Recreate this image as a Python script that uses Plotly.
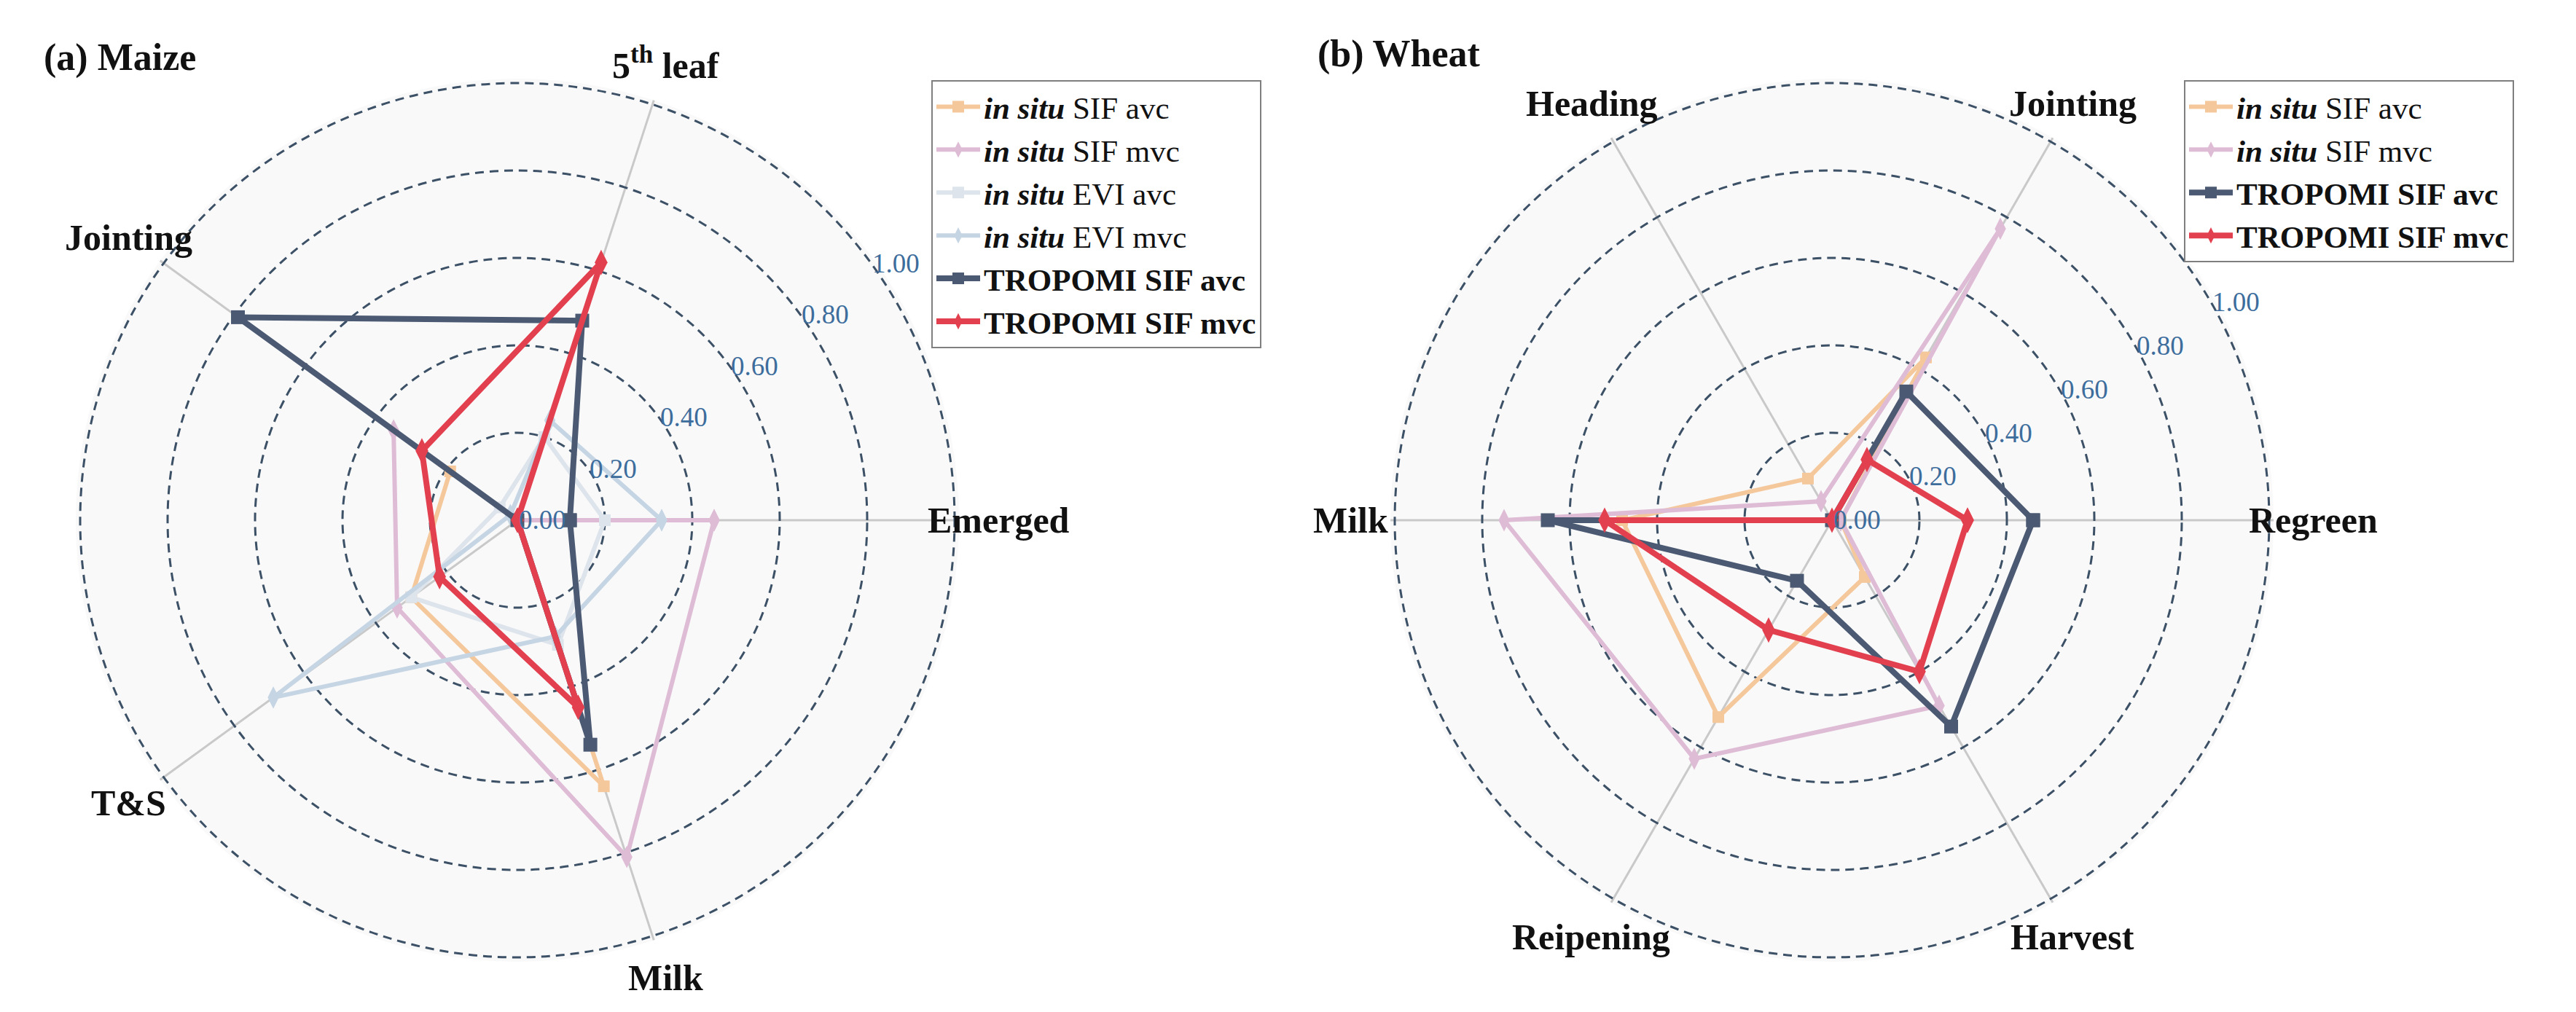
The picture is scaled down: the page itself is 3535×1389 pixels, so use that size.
import math
import plotly.graph_objects as go

# ---------------- data ----------------
cats_maize = ["Emerged", "5th leaf", "Jointing", "T&S", "Milk"]
labels_maize = ["Emerged", "5<sup>th</sup> leaf", "Jointing", "T&S", "Milk"]
maize_situ_sif_avc = [0.00, 0.00, 0.19, 0.30, 0.64]
maize_situ_sif_mvc = [0.45, 0.00, 0.35, 0.34, 0.81]
maize_situ_evi_avc = [0.20, 0.20, 0.05, 0.30, 0.30]
maize_situ_evi_mvc = [0.33, 0.24, 0.02, 0.69, 0.28]
maize_trop_avc = [0.12, 0.48, 0.79, 0.00, 0.54]
maize_trop_mvc = [0.00, 0.62, 0.27, 0.22, 0.45]

cats_wheat = ["Regreen", "Jointing", "Heading", "Milk", "Reipening", "Harvest"]
labels_wheat = ["Regreen", "Jointing", "Heading", "Milk", "Reipening", "Harvest"]
wheat_situ_sif_avc = [0.02, 0.43, 0.11, 0.48, 0.52, 0.15]
wheat_situ_sif_mvc = [0.02, 0.77, 0.05, 0.75, 0.63, 0.49]
wheat_trop_avc = [0.46, 0.34, 0.00, 0.65, 0.16, 0.545]
wheat_trop_mvc = [0.31, 0.16, 0.00, 0.52, 0.29, 0.40]

radial_ticks = [0.0, 0.2, 0.4, 0.6, 0.8, 1.0]
radial_ticktext = ["0.00", "0.20", "0.40", "0.60", "0.80", "1.00"]

series_names = [
    "<b><i>in situ</i></b> SIF avc",
    "<b><i>in situ</i></b> SIF mvc",
    "<b><i>in situ</i></b> EVI avc",
    "<b><i>in situ</i></b> EVI mvc",
    "<b>TROPOMI SIF avc</b>",
    "<b>TROPOMI SIF mvc</b>",
]

# ---------------- styles ----------------
FONT = "Liberation Serif"
styles = {
    "sif_avc": dict(color="#f5c89c", symbol="square", size=16, width=6),
    "sif_mvc": dict(color="#dfbcd5", symbol="diamond-tall", size=22, width=6),
    "evi_avc": dict(color="#dee4eb", symbol="square", size=16, width=6),
    "evi_mvc": dict(color="#c6d5e3", symbol="diamond-tall", size=22, width=6),
    "trop_avc": dict(color="#4b5a72", symbol="square", size=19, width=8),
    "trop_mvc": dict(color="#e3404f", symbol="diamond-tall", size=25, width=8),
}

W, H = 3535, 1389
RADIUS_PX = 600          # pixel radius of the 1.0 ring
R_MAX = 1.01             # radial range end (so that the 1.0 ring is drawn)
CENTERS = [(702, 706), (2506, 706)]
LABEL_R = 1.10
RADIAL_LABEL_ANGLES = [36, 30]


def closed(v):
    return list(v) + [v[0]]


fig = go.Figure()


def add_series(vals, cats, key, name, polar, legend):
    s = styles[key]
    fig.add_trace(go.Scatterpolar(
        r=closed(vals), theta=closed(cats), mode="lines+markers", name=name,
        line=dict(color=s["color"], width=s["width"]),
        marker=dict(color=s["color"], symbol=s["symbol"], size=s["size"]),
        subplot=polar, legend=legend, cliponaxis=False,
    ))


maize_sets = [
    (maize_situ_sif_avc, "sif_avc", series_names[0]),
    (maize_situ_sif_mvc, "sif_mvc", series_names[1]),
    (maize_situ_evi_avc, "evi_avc", series_names[2]),
    (maize_situ_evi_mvc, "evi_mvc", series_names[3]),
    (maize_trop_avc, "trop_avc", series_names[4]),
    (maize_trop_mvc, "trop_mvc", series_names[5]),
]
for vals, key, name in maize_sets:
    add_series(vals, cats_maize, key, name, "polar", "legend")

wheat_sets = [
    (wheat_situ_sif_avc, "sif_avc", series_names[0]),
    (wheat_situ_sif_mvc, "sif_mvc", series_names[1]),
    (wheat_trop_avc, "trop_avc", series_names[4]),
    (wheat_trop_mvc, "trop_mvc", series_names[5]),
]
for vals, key, name in wheat_sets:
    add_series(vals, cats_wheat, key, name, "polar2", "legend2")


def polar_layout(center, cats):
    cx, cy = center
    half = RADIUS_PX * R_MAX
    return dict(
        domain=dict(x=[(cx - half) / W, (cx + half) / W],
                    y=[(H - cy - half) / H, (H - cy + half) / H]),
        bgcolor="#f9f9fa",
        radialaxis=dict(
            range=[0, R_MAX], tickvals=radial_ticks, showticklabels=False,
            showline=False, ticks="",
            gridcolor="#3c5066", griddash="12px,8px", gridwidth=3,
        ),
        angularaxis=dict(
            type="category", categoryarray=cats, rotation=0,
            direction="counterclockwise", showline=False, ticks="",
            showticklabels=False, gridcolor="#c9c9c9", gridwidth=3,
        ),
    )


def category_annotations(center, labels):
    cx, cy = center
    n = len(labels)
    out = []
    for i, lab in enumerate(labels):
        ang = math.radians(360.0 * i / n)
        x = cx + LABEL_R * RADIUS_PX * math.cos(ang)
        y = cy - LABEL_R * RADIUS_PX * math.sin(ang)
        out.append(dict(text="<b>%s</b>" % lab, x=x / W, y=1 - y / H,
                        xref="paper", yref="paper", xanchor="center", yanchor="middle",
                        showarrow=False, font=dict(family=FONT, size=50, color="#111111")))
    return out


def radial_label_annotations(center, angle_deg):
    cx, cy = center
    a = math.radians(angle_deg)
    out = []
    for v, t in zip(radial_ticks, radial_ticktext):
        x = cx + v * RADIUS_PX * math.cos(a)
        y = cy - v * RADIUS_PX * math.sin(a)
        out.append(dict(text=t, x=x / W, y=1 - y / H, xref="paper", yref="paper",
                        xanchor="left", yanchor="middle", showarrow=False,
                        font=dict(family=FONT, size=37, color="#3d6d9c")))
    return out


legend_common = dict(
    font=dict(family=FONT, size=43, color="#111111"),
    bgcolor="white", bordercolor="#7f7f7f", borderwidth=2,
    xanchor="left", yanchor="top", tracegroupgap=0, itemwidth=60,
)

annotations = [
    dict(text="<b>(a) Maize</b>", x=50 / W, y=1 - 71 / H, xref="paper", yref="paper",
         xanchor="left", yanchor="middle", showarrow=False,
         font=dict(family=FONT, size=52, color="#111111")),
    dict(text="<b>(b) Wheat</b>", x=1798 / W, y=1 - 66 / H, xref="paper", yref="paper",
         xanchor="left", yanchor="middle", showarrow=False,
         font=dict(family=FONT, size=52, color="#111111")),
]
annotations += category_annotations(CENTERS[0], labels_maize)
annotations += category_annotations(CENTERS[1], labels_wheat)
annotations += radial_label_annotations(CENTERS[0], RADIAL_LABEL_ANGLES[0])
annotations += radial_label_annotations(CENTERS[1], RADIAL_LABEL_ANGLES[1])

fig.update_layout(
    width=W, height=H, autosize=False,
    margin=dict(l=0, r=0, t=0, b=0),
    paper_bgcolor="white", plot_bgcolor="white",
    polar=polar_layout(CENTERS[0], cats_maize),
    polar2=polar_layout(CENTERS[1], cats_wheat),
    legend=dict(x=1270 / W, y=1 - 102 / H, **legend_common),
    legend2=dict(x=2989 / W, y=1 - 102 / H, **legend_common),
    annotations=annotations,
)

fig.write_html("out.html")
